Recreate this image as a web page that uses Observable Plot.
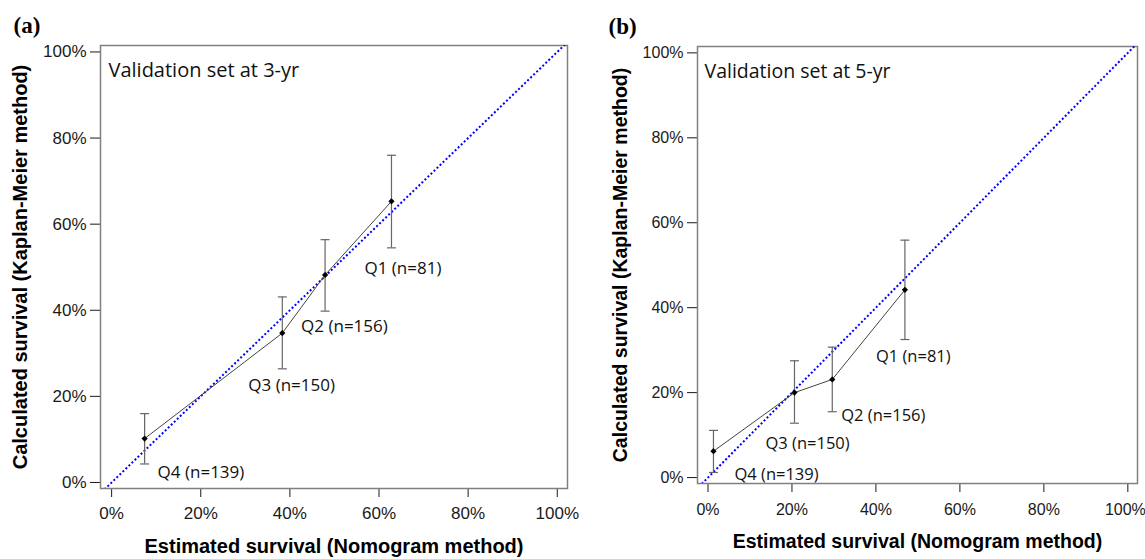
<!DOCTYPE html>
<html><head><meta charset="utf-8">
<script src="https://cdn.jsdelivr.net/npm/d3@7"></script>
<script src="https://cdn.jsdelivr.net/npm/@observablehq/plot@0.6"></script>
<style>
html,body{margin:0;padding:0;background:#fff;}
#wrap{position:relative;width:1145px;height:559px;overflow:hidden;}
#wrap > svg{position:absolute;top:0;overflow:visible;}
</style></head><body><div id="wrap"></div>
<script>
// ---- data ----
const groups = ["Q1 (n=81)", "Q2 (n=156)", "Q3 (n=150)", "Q4 (n=139)"];

// (a) validation set at 3-yr
const est3 = [0.628, 0.479, 0.383, 0.074];
const km3  = [0.653, 0.482, 0.347, 0.102];
const lo3  = [0.545, 0.398, 0.264, 0.043];
const hi3  = [0.760, 0.564, 0.431, 0.160];

// (b) validation set at 5-yr
const est5 = [0.469, 0.296, 0.206, 0.013];
const km5  = [0.442, 0.231, 0.200, 0.062];
const lo5  = [0.325, 0.155, 0.128, 0.012];
const hi5  = [0.559, 0.307, 0.275, 0.111];

const pctTicks = [0, 0.2, 0.4, 0.6, 0.8, 1.0];
const idealLine = [-0.05, 1.05];
const panelTags = ["(a)", "(b)"];
const panelTitles = ["Validation set at 3-yr", "Validation set at 5-yr"];
const xTitle = "Estimated survival (Nomogram method)";
const yTitle = "Calculated survival (Kaplan-Meier method)";

// ---- layout / style (not data) ----
const labelOffsets = [
  {dx: [-27, -24, -34, 13], dy: [67, 52, 52, 34]},
  {dx: [-29, 9, -29, 21],   dy: [67, 36, 51, 23]}
];
const layouts = [
  {left: 0,   width: 580, ml: 100, mr: 13, mt: 45, mb: 71, tick: 17, lab: 17, ttl: 20, axt: 20, xPad: 9,  yTitleDx: -80, xTitleDy: 58, tagX: 13, titleDx: 8, lastAnchorEnd: false},
  {left: 580, width: 565, ml: 117, mr: 8,  mt: 46, mb: 76, tick: 16, lab: 16.5, ttl: 19.5, axt: 19.5, xPad: 11, yTitleDx: -77, xTitleDy: 58, tagX: 28, titleDx: 7, lastAnchorEnd: true}
];
const series = [[est3, km3, lo3, hi3], [est5, km5, lo5, hi5]];
const capSymbol = {draw(ctx, size) { const h = Math.sqrt(size / Math.PI); ctx.moveTo(-h, 0); ctx.lineTo(h, 0); }};
const sans = "Liberation Sans, Arial, sans-serif";
const calib = "Open Sans, sans-serif";
const pct = d3.format(".0%");

function panel(p) {
  const L = layouts[p];
  const [est, km, lo, hi] = series[p];
  const rows = groups.map((g, i) => ({g, est: est[i], km: km[i], lo: lo[i], hi: hi[i]}));
  const sorted = rows.slice().sort((a, b) => a.est - b.est);
  const ideal = idealLine.map(v => ({x: v, y: v}));
  const labelMarks = rows.map((r, i) => Plot.text([r], {
    x: "est", y: "km", text: "g", textAnchor: "start", lineAnchor: "middle",
    dx: labelOffsets[p].dx[i], dy: labelOffsets[p].dy[i],
    fontFamily: calib, fontSize: L.lab, fill: "#111"
  }));
  // x tick labels drawn as text marks (the last one kept inside the window edge when needed)
  const innerTicks = L.lastAnchorEnd ? pctTicks.slice(0, -1) : pctTicks;
  const xTickLabels = [
    Plot.text(innerTicks, {x: d => d, text: d => pct(d), frameAnchor: "bottom", dy: 9 + L.xPad, lineAnchor: "top", textAnchor: "middle", fontFamily: sans, fontSize: L.tick, fill: "#1a1a1a"})
  ];
  if (L.lastAnchorEnd) {
    xTickLabels.push(Plot.text(pctTicks.slice(-1), {x: d => d, text: d => pct(d), frameAnchor: "bottom", dy: 9 + L.xPad, dx: 18, lineAnchor: "top", textAnchor: "end", fontFamily: sans, fontSize: L.tick, fill: "#1a1a1a"}));
  }
  const svg = Plot.plot({
    width: L.width, height: 559,
    marginLeft: L.ml, marginRight: L.mr, marginTop: L.mt, marginBottom: L.mb,
    style: {fontFamily: sans, fontSize: L.tick + "px", color: "#1a1a1a", background: "transparent", overflow: "visible"},
    x: {domain: [-0.025, 1.023], ticks: pctTicks, tickFormat: () => "", tickSize: 9, tickPadding: L.xPad, label: null},
    y: {domain: [-0.014, 1.015], ticks: pctTicks, tickFormat: pct, tickSize: 10, tickPadding: 4, label: null},
    marks: [
      Plot.frame({stroke: "#808080", strokeWidth: 1.5}),
      Plot.line(ideal, {x: "x", y: "y", stroke: "#0000ff", strokeWidth: 2, strokeDasharray: "2,2.2", strokeLinecap: "butt", clip: true}),
      Plot.ruleX(rows, {x: "est", y1: "lo", y2: "hi", stroke: "#666", strokeWidth: 1.2}),
      Plot.dot(rows, {x: "est", y: "lo", symbol: capSymbol, r: 4.5, stroke: "#666", fill: "none", strokeWidth: 1.2}),
      Plot.dot(rows, {x: "est", y: "hi", symbol: capSymbol, r: 4.5, stroke: "#666", fill: "none", strokeWidth: 1.2}),
      Plot.line(sorted, {x: "est", y: "km", stroke: "#444", strokeWidth: 1}),
      Plot.dot(rows, {x: "est", y: "km", symbol: "diamond2", r: 2.8, fill: "#000", stroke: "none"}),
      ...labelMarks,
      ...xTickLabels,
      Plot.text([panelTitles[p]], {frameAnchor: "top-left", dx: L.titleDx, dy: 25, textAnchor: "start", lineAnchor: "middle", fontFamily: calib, fontSize: L.ttl, fill: "#111"}),
      Plot.text([xTitle], {frameAnchor: "bottom", dy: L.xTitleDy, textAnchor: "middle", lineAnchor: "middle", fontFamily: sans, fontWeight: "bold", fontSize: L.axt, fill: "#000"}),
      Plot.text([yTitle], {frameAnchor: "left", dx: L.yTitleDx, rotate: -90, textAnchor: "middle", lineAnchor: "middle", fontFamily: sans, fontWeight: "bold", fontSize: L.axt, fill: "#000"}),
      Plot.text([panelTags[p]], {frameAnchor: "top-left", dx: -L.ml + L.tagX, dy: -20, textAnchor: "start", lineAnchor: "middle", fontFamily: "Liberation Serif, Times New Roman, serif", fontWeight: "bold", fontSize: 23, fill: "#000"})
    ]
  });
  svg.style.left = L.left + "px";
  return svg;
}
const wrap = document.getElementById("wrap");
wrap.appendChild(panel(0));
wrap.appendChild(panel(1));
</script></body></html>
